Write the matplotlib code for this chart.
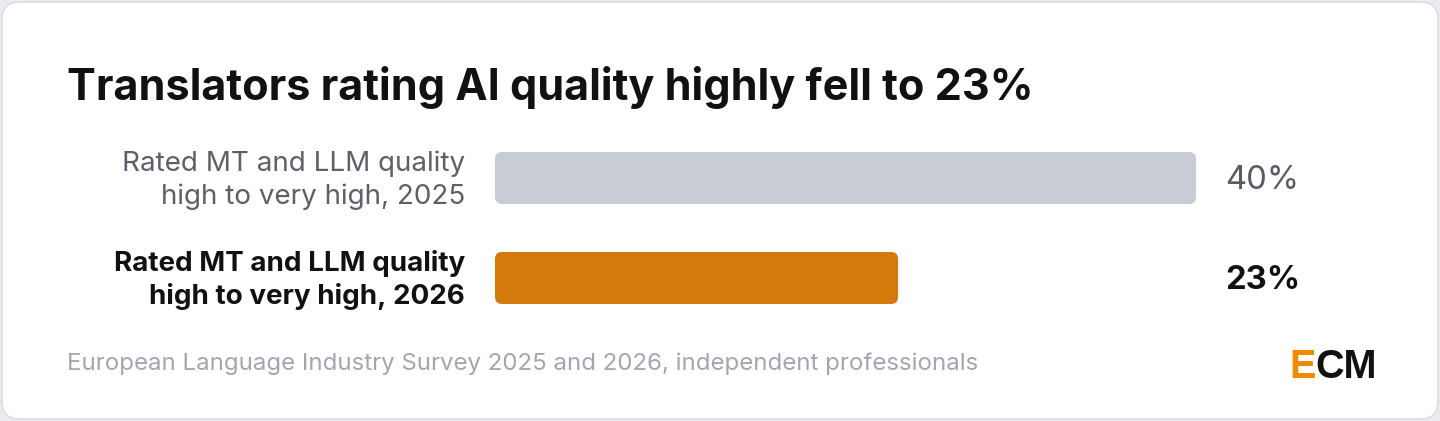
import matplotlib
matplotlib.use("Agg")
import matplotlib.pyplot as plt
from matplotlib.patches import FancyBboxPatch
from matplotlib.transforms import blended_transform_factory

title = "Translators rating AI quality highly fell to 23%"
categories = ["Rated MT and LLM quality\nhigh to very high, 2025",
              "Rated MT and LLM quality\nhigh to very high, 2026"]
values = [40, 23]
value_labels = ["40%", "23%"]
bar_colors = ["#c8ccd4", "#d4790b"]
label_colors = ["#5f5f69", "#111111"]
value_colors = ["#5a5a64", "#111111"]
label_weights = ["normal", "bold"]
source = "European Language Industry Survey 2025 and 2026, independent professionals"

W, H = 1440, 421
fig = plt.figure(figsize=(W / 100, H / 100), dpi=100)
fig.patch.set_facecolor("#ececf0")
FONT = ["Inter", "DejaVu Sans"]

# card
card = FancyBboxPatch((2 / W, 2 / H), (W - 4) / W, (H - 4) / H,
                      boxstyle="round,pad=0,rounding_size=0.012",
                      mutation_aspect=W / H,
                      transform=fig.transFigure, facecolor="white",
                      edgecolor="#dcdce2", linewidth=1.2, zorder=-10)
fig.patches.append(card)

fig.text(67 / W, 1 - 100 / H, title, family=FONT, fontsize=31.1, fontweight="bold",
         color="#111111", va="baseline", ha="left")

# axes: x from 495 px to 1196 px (0..40), y 128..328 px
ax_left, ax_right = 495, 1196
ax_top, ax_bot = 128, 328
ax = fig.add_axes([ax_left / W, 1 - ax_bot / H, (ax_right - ax_left) / W, (ax_bot - ax_top) / H])
ax.set_zorder(1)
ax.patch.set_visible(False)
ax.set_xlim(0, 40)
ax.set_ylim(1.5, -0.5)
ax.axis("off")

px_x = (ax_right - ax_left) / 40.0  # px per x unit
px_y = (ax_bot - ax_top) / 2.0      # px per y unit
bh = 0.52
r_px = 7
for i, (v, c) in enumerate(zip(values, bar_colors)):
    p = FancyBboxPatch((0, i - bh / 2), v, bh,
                       boxstyle=f"round,pad=0,rounding_size={r_px / px_x}",
                       mutation_aspect=px_x / px_y,
                       facecolor=c, edgecolor="none")
    ax.add_patch(p)

trans = blended_transform_factory(fig.transFigure, ax.transData)
for i, cat in enumerate(categories):
    for j, line in enumerate(cat.split("\n")):
        base_px = -7 + 33 * j  # baseline offset from bar centre, pixels
        fig.text(465 / W, i + base_px / px_y, line, transform=trans, family=FONT,
                 fontsize=20, fontweight=label_weights[i], color=label_colors[i],
                 ha="right", va="baseline")

for i, lab in enumerate(value_labels):
    fig.text(1225 / W, i + 11 / px_y, lab, transform=trans, family=FONT, fontsize=23.6,
             fontweight=label_weights[i], color=value_colors[i],
             ha="left", va="baseline")

fig.text(67 / W, 1 - 370 / H, source, family=FONT, fontsize=17.3,
         color="#a3a6b0", ha="left", va="baseline")

# ECM logo
logo_font = ["Liberation Sans", "DejaVu Sans"]
e = fig.text(1289 / W, 1 - 378 / H, "E", family=logo_font,
             fontsize=28.5, fontweight="bold", color="#f08a00", ha="left", va="baseline")
fig.canvas.draw()
bb = e.get_window_extent()
fig.text(bb.x1 / W, 1 - 378 / H, "CM", family=logo_font,
         fontsize=28.5, fontweight="bold", color="#111111", ha="left", va="baseline")

fig.savefig("out.png", dpi=100, facecolor=fig.get_facecolor())
